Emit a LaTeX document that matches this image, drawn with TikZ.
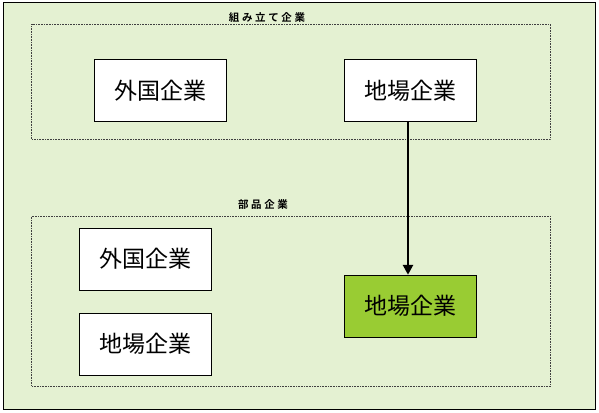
\documentclass[tikz,border=0pt]{standalone}
\usepackage{fontspec}
\newfontfamily\cjk{Noto Sans CJK JP}
\newfontfamily\cjklabel[LetterSpace=25]{Noto Sans CJK JP Bold}
\usetikzlibrary{arrows.meta}
\definecolor{paneback}{HTML}{E4F1D2}
\definecolor{localgreen}{HTML}{99CC33}
\tikzset{
  firm/.style={draw=black, fill=white, line width=.8pt, inner sep=0pt,
    minimum width=132pt, minimum height=62pt, font=\fontsize{23}{25}\cjk},
  group/.style={draw=black!75, densely dotted, line width=.6pt},
  grouplabel/.style={inner sep=1pt, font=\fontsize{10.5}{12}\cjklabel},
}
\begin{document}
\begin{tikzpicture}[x=1pt,y=-1pt]
\useasboundingbox (0,0) rectangle (599,412);
\draw[black, fill=paneback, line width=.8pt] (3.5,2.5) rectangle (595,409);
% assembly firms
\draw[group] (31.5,24.5) rectangle (550.7,139);
\node[grouplabel, anchor=south] (asmlabel) at (267,24) {組み立て企業};
\node[firm] (asmforeign) at (160.2,90.3) {外国企業};
\node[firm] (asmlocal) at (410.5,90.3) {地場企業};
% parts firms
\draw[group] (31.5,216.7) rectangle (550.7,385.8);
\node[grouplabel] (partlabel) at (263,204) {部品企業};
\node[firm] (partforeign) at (145,259.2) {外国企業};
\node[firm] (partlocal) at (145,344.2) {地場企業};
\node[firm, fill=localgreen] (partlocalkey) at (410.5,306.2) {地場企業};
\draw[line width=2.6pt, -{Triangle[length=10pt,width=10pt]}]
  ([xshift=-2.5pt]asmlocal.south) -- ([xshift=-2.5pt]partlocalkey.north);
\end{tikzpicture}
\end{document}
